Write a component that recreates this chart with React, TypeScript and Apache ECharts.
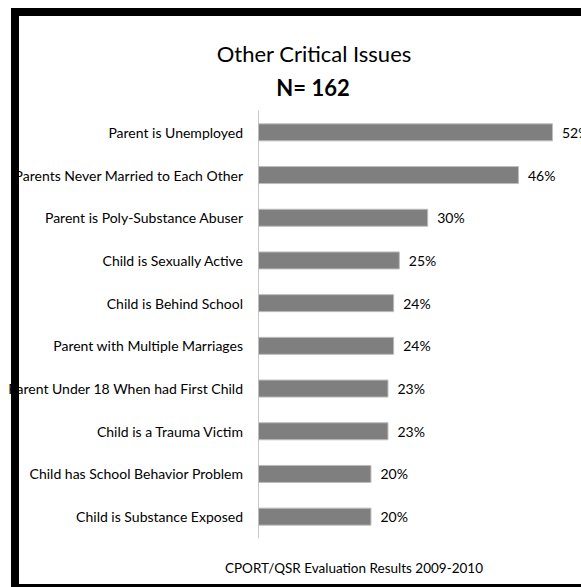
import React, { useEffect, useRef } from "react";
import * as echarts from "echarts";

const categories = [
  "Parent is Unemployed",
  "Parents Never Married to Each Other",
  "Parent is Poly-Substance Abuser",
  "Child is Sexually Active",
  "Child is Behind School",
  "Parent with Multiple Marriages",
  "Parent Under 18 When had First Child",
  "Child is a Trauma Victim",
  "Child has School Behavior Problem",
  "Child is Substance Exposed",
];
const values = [52, 46, 30, 25, 24, 24, 23, 23, 20, 20];
const titleText = "Other Critical Issues";
const subtitleText = "N= 162";
const footerText = "CPORT/QSR Evaluation Results 2009-2010";

const FONT = "Lato, 'Noto Sans', sans-serif";

export default function App() {
  const ref = useRef<HTMLDivElement>(null);
  useEffect(() => {
    if (!ref.current) return;
    const chart = echarts.init(ref.current, null, { renderer: "svg" });
    chart.setOption({
      animation: false,
      backgroundColor: "#ffffff",
      title: [
        {
          text: titleText,
          left: 309,
          top: 37,
          textAlign: "center",
          textStyle: { fontFamily: FONT, fontSize: 22, fontWeight: "normal", color: "#000" },
        },
        {
          text: subtitleText,
          left: 308,
          top: 71,
          textAlign: "center",
          textStyle: { fontFamily: FONT, fontSize: 22, fontWeight: "bold", color: "#000" },
        },
        {
          text: footerText,
          left: 349,
          top: 556,
          textAlign: "center",
          textStyle: { fontFamily: FONT, fontSize: 13.5, fontWeight: "normal", color: "#000" },
        },
      ],
      graphic: [
        { type: "rect", shape: { x: 11, y: 8, width: 570, height: 8 }, style: { fill: "#000" } },
        { type: "rect", shape: { x: 11, y: 8, width: 8, height: 579 }, style: { fill: "#000" } },
        { type: "rect", shape: { x: 11, y: 584, width: 570, height: 3 }, style: { fill: "#000" } },
      ],
      grid: {
        left: 258,
        right: 28,
        top: 111,
        bottom: 49,
        containLabel: false,
        outerBoundsMode: "none",
      },
      xAxis: {
        type: "value",
        min: 0,
        max: 52,
        show: false,
      },
      yAxis: {
        type: "category",
        data: categories,
        inverse: true,
        axisLine: { show: true, lineStyle: { color: "#c8c8c8", width: 1 } },
        axisTick: { show: false },
        axisLabel: {
          margin: 15,
          fontFamily: FONT,
          fontSize: 14,
          color: "#000",
        },
      },
      series: [
        {
          type: "bar",
          data: values,
          barWidth: 18,
          itemStyle: { color: "#7f7f7f", borderColor: "#bdbdbd", borderWidth: 1 },
          label: {
            show: true,
            position: "right",
            distance: 9,
            formatter: "{c}%",
            fontFamily: FONT,
            fontSize: 14,
            color: "#000",
          },
        },
      ],
    });
    return () => chart.dispose();
  }, []);
  return (
    <div
      ref={ref}
      style={{ position: "absolute", left: 0, top: 0, width: 581, height: 587 }}
    />
  );
}
